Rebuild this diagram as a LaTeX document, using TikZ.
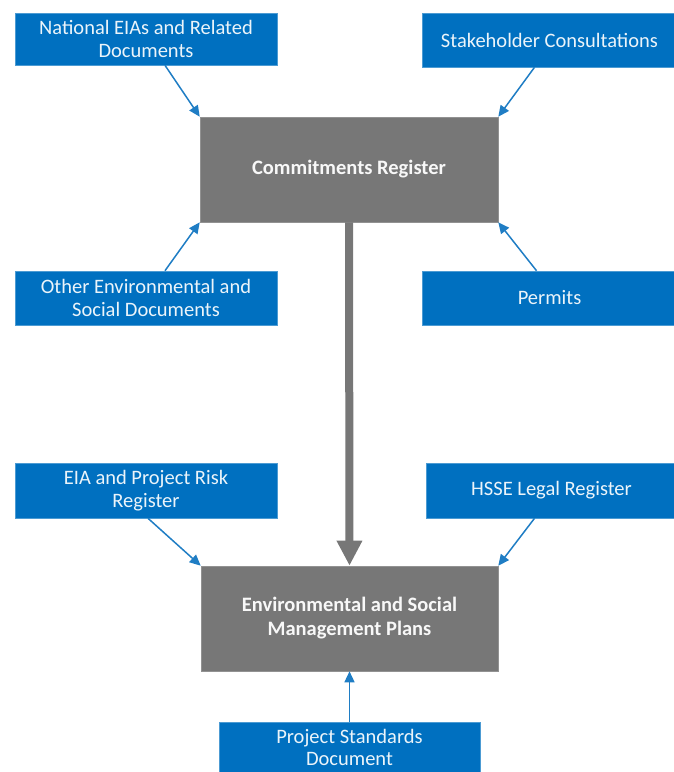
\documentclass[tikz,border=0pt]{standalone}
\usepackage{fontspec}
\setmainfont{Carlito}
\usetikzlibrary{arrows.meta}
\definecolor{boxblue}{HTML}{0070C0}
\definecolor{boxgray}{HTML}{777777}
\definecolor{linkblue}{HTML}{1F7DC4}
\begin{document}
\begin{tikzpicture}[x=1pt,y=-1pt,
  bluebox/.style={fill=boxblue, draw=boxblue!70!white, line width=0.6pt, text=white!92!boxblue, align=center, inner sep=0pt,
     font=\fontsize{20.5}{23.5}\selectfont},
  graybox/.style={fill=boxgray, draw=boxgray!80!white, line width=0.6pt, text=white!95!boxgray, align=center, inner sep=0pt,
     font=\fontsize{20.5}{24}\selectfont\bfseries},
  link/.style={draw=linkblue, line width=1.5pt, -{Triangle[length=11pt,width=10pt]}},
  biglink/.style={draw=boxgray, line width=8pt, -{Triangle[length=25pt,width=24pt]}}]
\useasboundingbox (0,0) rectangle (673,772);
% blue source boxes
\node[bluebox, minimum width=262pt, minimum height=52pt] (nat) at (146,39) {National EIAs and Related\\Documents};
\node[bluebox, minimum width=255pt, minimum height=54pt] (stake) at (549.5,40) {Stakeholder Consultations};
\node[bluebox, minimum width=262pt, minimum height=54pt] (other) at (146,298) {Other Environmental and\\Social Documents};
\node[bluebox, minimum width=255pt, minimum height=54pt] (permits) at (549.5,298) {Permits};
\node[bluebox, minimum width=262pt, minimum height=55pt] (eia) at (146,490.5) {EIA and Project Risk\\Register};
\node[bluebox, minimum width=251pt, minimum height=55pt] (hsse) at (551.5,490.5) {HSSE Legal Register};
\node[bluebox, minimum width=261pt, minimum height=50pt, font=\fontsize{20.5}{22.5}\selectfont] (pstd) at (349.5,747.5) {Project Standards\\Document};
% gray boxes
\node[graybox, minimum width=298pt, minimum height=105pt] (cr) at (349,169.5) {Commitments Register};
\node[graybox, minimum width=297pt, minimum height=105pt] (esmp) at (349.5,618.5) {Environmental and Social\\Management Plans};
% connectors
\draw[link] ([xshift=19pt]nat.south) -- (cr.north west);
\draw[link] ([xshift=-15pt]stake.south) -- (cr.north east);
\draw[link] ([xshift=19pt]other.north) -- (cr.south west);
\draw[link] ([xshift=-13pt]permits.north) -- (cr.south east);
\draw[biglink] (cr.south) -- (esmp.north);
\draw[link] ([xshift=2pt]eia.south) -- (esmp.north west);
\draw[link] ([xshift=-17pt]hsse.south) -- (esmp.north east);
\draw[link] (pstd.north) -- (esmp.south);
\end{tikzpicture}
\end{document}
